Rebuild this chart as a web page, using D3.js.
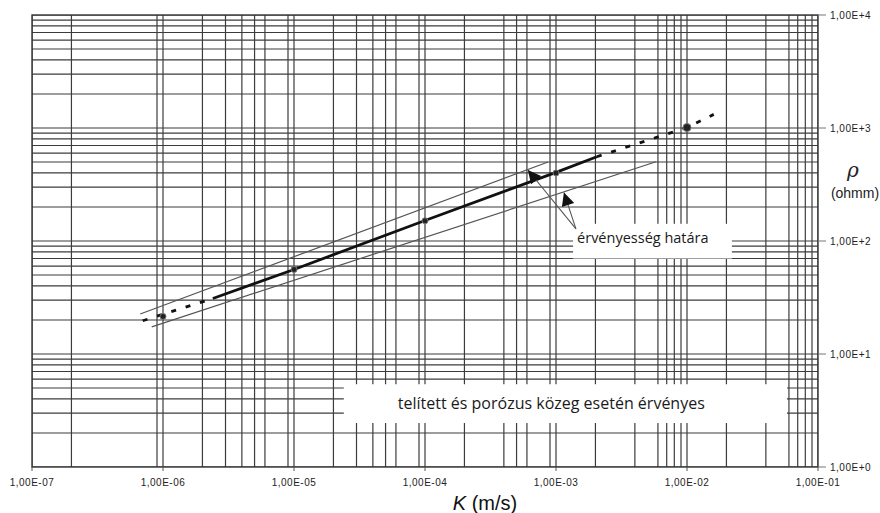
<!DOCTYPE html>
<html>
<head>
<meta charset="utf-8">
<script src="https://cdn.jsdelivr.net/npm/d3@7"></script>
<style>
    body { margin: 0; background: #fff; }
    svg { display: block; }
    .tick-label { font-family: "Liberation Sans", Arial, sans-serif; font-size: 10px; letter-spacing: 0.5px; fill: #222; }
    .note { font-family: "Open Sans", sans-serif; fill: #1a1a1a; }
</style>
</head>
<body>
<div id="chart"></div>
<script>
// axis decades and labels
const xDecades = [1e-7, 1e-6, 1e-5, 1e-4, 1e-3, 1e-2, 1e-1];
const xTickLabels = ["1,00E-07", "1,00E-06", "1,00E-05", "1,00E-04", "1,00E-03", "1,00E-02", "1,00E-01"];
const yDecades = [1, 10, 100, 1000, 10000];
const yTickLabels = ["1,00E+0", "1,00E+1", "1,00E+2", "1,00E+3", "1,00E+4"];

// minor grid multipliers (the scanned log paper misses some lines)
const xGridMult = [[2, 9], [2, 3, 4, 5, 6, 9], [2, 3, 4, 5, 6, 9], [2, 4, 5, 6, 9], [2, 4, 6, 7, 8, 9], [2, 4, 6, 7, 8, 9]];
const yGridMult = [2, 3, 4, 5, 6, 7, 8, 9];

// measured points K (m/s) -> rho (ohmm)
const measuredK = [1e-6, 1e-5, 1e-4, 1e-3, 1e-2];
const measuredRho = [21.5, 56, 151, 400, 1010];

// fitted relation: solid part and dashed extrapolations
const fitSolid = [[2.4e-6, 31], [1e-5, 56], [1e-4, 152], [1e-3, 405], [2.05e-3, 557]];
const fitDashLow = [[7e-7, 19.7], [2.4e-6, 31]];
const fitDashHigh = [[2.05e-3, 557], [1e-2, 1010], [1.6e-2, 1320]];

// validity limits
const upperBound = [[6.7e-7, 22.6], [8.7e-4, 500]];
const lowerBound = [[8.2e-7, 17.4], [5.8e-3, 503]];

// annotation arrows: common tail, two tips
const arrowTail = [1.42e-3, 128];
const arrowTips = [[6.1e-4, 425], [1.15e-3, 268]];

const limitLabel = "érvényesség határa";
const limitBox = [[1.35e-3, 142], [2.2e-2, 70]];
const validLabel = "telített és porózus közeg esetén érvényes";
const validBox = [[2.4e-5, 5.4], [5.8e-2, 2.45]];

const width = 880, height = 513;
const plot = {left: 32, right: 818, top: 15, bottom: 467};

const svg = d3.select("#chart").append("svg")
    .attr("width", width)
    .attr("height", height);

const x = d3.scaleLog()
    .domain([xDecades[0], xDecades[xDecades.length - 1]])
    .range([plot.left, plot.right]);

const y = d3.scaleLog()
    .domain([yDecades[0], yDecades[yDecades.length - 1]])
    .range([plot.bottom, plot.top]);

svg.append("clipPath")
    .attr("id", "clip")
    .append("rect")
    .attr("x", plot.left)
    .attr("y", plot.top)
    .attr("width", plot.right - plot.left)
    .attr("height", plot.bottom - plot.top);

// grid
let xGrid = [];
xDecades.slice(0, -1).forEach((d, i) => xGridMult[i].forEach(m => xGrid.push(d * m)));
let yGrid = [];
yDecades.slice(0, -1).forEach(d => yGridMult.forEach(m => yGrid.push(d * m)));

const grid = svg.append("g").attr("clip-path", "url(#clip)");

grid.selectAll(".vgrid")
    .data(xGrid.concat(xDecades))
    .enter()
    .append("line")
    .attr("x1", d => x(d)).attr("x2", d => x(d))
    .attr("y1", plot.top).attr("y2", plot.bottom)
    .style("stroke", "#3c3c3c")
    .style("stroke-width", 1.2);

grid.selectAll(".hgrid")
    .data(yGrid.concat(yDecades))
    .enter()
    .append("line")
    .attr("x1", plot.left).attr("x2", plot.right)
    .attr("y1", d => y(d)).attr("y2", d => y(d))
    .style("stroke", "#3c3c3c")
    .style("stroke-width", 1.2);

// white label boxes covering the grid
[limitBox, validBox].forEach(b => {
    svg.append("rect")
        .attr("x", x(b[0][0]))
        .attr("y", y(b[0][1]))
        .attr("width", x(b[1][0]) - x(b[0][0]))
        .attr("height", y(b[1][1]) - y(b[0][1]))
        .style("fill", "#fff");
});

// frame
svg.append("rect")
    .attr("x", plot.left)
    .attr("y", plot.top)
    .attr("width", plot.right - plot.left)
    .attr("height", plot.bottom - plot.top)
    .style("fill", "none")
    .style("stroke", "#333")
    .style("stroke-width", 1.4);

// axis ticks and labels
svg.selectAll(".xtick")
    .data(xDecades)
    .enter()
    .append("line")
    .attr("x1", d => x(d)).attr("x2", d => x(d))
    .attr("y1", plot.bottom).attr("y2", plot.bottom + 4)
    .style("stroke", "#555");

svg.selectAll(".xlabel")
    .data(xDecades)
    .enter()
    .append("text")
    .attr("class", "tick-label")
    .attr("x", d => x(d))
    .attr("y", plot.bottom + 19)
    .attr("text-anchor", "middle")
    .text((d, i) => xTickLabels[i]);

svg.selectAll(".ytick")
    .data(yDecades)
    .enter()
    .append("line")
    .attr("x1", plot.right).attr("x2", plot.right + 8)
    .attr("y1", d => y(d)).attr("y2", d => y(d))
    .style("stroke", "#777");

svg.selectAll(".ylabel")
    .data(yDecades)
    .enter()
    .append("text")
    .attr("class", "tick-label")
    .attr("x", plot.right + 12)
    .attr("y", d => y(d) + 4)
    .text((d, i) => yTickLabels[i]);

// axis titles
const xTitle = svg.append("text")
    .attr("x", 485)
    .attr("y", 510)
    .attr("text-anchor", "middle")
    .style("font-family", "'Liberation Sans', Arial, sans-serif")
    .style("font-size", "20px")
    .style("fill", "#111");
xTitle.append("tspan").style("font-style", "italic").text("K");
xTitle.append("tspan").text(" (m/s)");

svg.append("text")
    .attr("x", 853)
    .attr("y", 177)
    .attr("text-anchor", "middle")
    .style("font-family", "'DejaVu Serif', serif")
    .style("font-style", "italic")
    .style("font-size", "20px")
    .style("fill", "#222")
    .text("ρ");

svg.append("text")
    .attr("x", 855)
    .attr("y", 198)
    .attr("text-anchor", "middle")
    .style("font-family", "'Liberation Sans', Arial, sans-serif")
    .style("font-size", "14px")
    .style("fill", "#222")
    .text("(ohmm)");

// lines
const line = d3.line()
    .x(d => x(d[0]))
    .y(d => y(d[1]));

[upperBound, lowerBound].forEach(b => {
    svg.append("path")
        .attr("d", line(b))
        .style("fill", "none")
        .style("stroke", "#555")
        .style("stroke-width", 1.2);
});

svg.append("path")
    .attr("d", line(fitSolid))
    .style("fill", "none")
    .style("stroke", "#111")
    .style("stroke-width", 2.8);

[fitDashLow, fitDashHigh].forEach(seg => {
    svg.append("path")
        .attr("d", line(seg))
        .style("fill", "none")
        .style("stroke", "#111")
        .style("stroke-width", 2.8)
        .style("stroke-dasharray", "5,10");
});

svg.selectAll(".point")
    .data(measuredK)
    .enter()
    .append("circle")
    .attr("cx", d => x(d))
    .attr("cy", (d, i) => y(measuredRho[i]))
    .attr("r", (d, i) => i === measuredK.length - 1 ? 4 : 3)
    .style("fill", "#222")
    .style("stroke", "#777")
    .style("stroke-width", 1);

// arrows
svg.append("defs").append("marker")
    .attr("id", "head")
    .attr("viewBox", "0 0 10 10")
    .attr("refX", 10)
    .attr("refY", 5)
    .attr("markerWidth", 16)
    .attr("markerHeight", 13)
    .attr("markerUnits", "userSpaceOnUse")
    .attr("orient", "auto")
    .append("path")
    .attr("d", "M0,0 L10,5 L0,10 Z")
    .style("fill", "#111");

arrowTips.forEach(t => {
    svg.append("line")
        .attr("x1", x(arrowTail[0])).attr("y1", y(arrowTail[1]))
        .attr("x2", x(t[0])).attr("y2", y(t[1]))
        .attr("marker-end", "url(#head)")
        .style("stroke", "#555")
        .style("stroke-width", 1.1);
});

// notes
svg.append("text")
    .attr("class", "note")
    .attr("x", x(limitBox[0][0]) + 4)
    .attr("y", y(limitBox[0][1]) + 19)
    .style("font-size", "14.5px")
    .text(limitLabel);

svg.append("text")
    .attr("class", "note")
    .attr("x", x(validBox[0][0]) + 54)
    .attr("y", y(validBox[0][1]) + 25)
    .style("font-size", "16px")
    .text(validLabel);
</script>
</body>
</html>
